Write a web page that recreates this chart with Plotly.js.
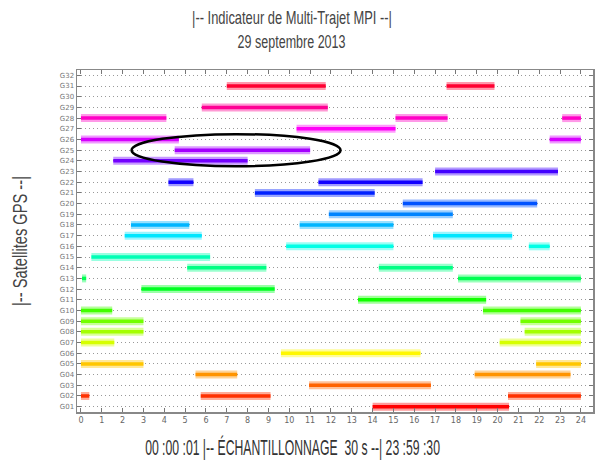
<!DOCTYPE html>
<html>
<head>
<meta charset="utf-8">
<script src="https://cdn.plot.ly/plotly-3.0.1.min.js"></script>
<style>html,body{margin:0;padding:0;background:#fff;}#chart{width:597px;height:464px;}</style>
</head>
<body>
<div id="chart"></div>
<script>
// ---- Data ----
const satTickVals = [1,2,3,4,5,6,7,8,9,10,11,12,13,14,15,16,17,18,19,20,21,22,23,24,25,26,27,28,29,30,31,32];
const satTickText = ['G01','G02','G03','G04','G05','G06','G07','G08','G09','G10','G11','G12','G13','G14','G15','G16',
                     'G17','G18','G19','G20','G21','G22','G23','G24','G25','G26','G27','G28','G29','G30','G31','G32'];
const hourTicks = [0,1,2,3,4,5,6,7,8,9,10,11,12,13,14,15,16,17,18,19,20,21,22,23,24];

// visibility segments (hours) for each satellite
const segSat   = [1, 2,2,2, 3, 4,4, 5,5, 6, 7,7, 8,8, 9,9, 10,10, 11, 12, 13,13, 14,14, 15, 16,16, 17,17, 18,18, 19, 20, 21, 22,22, 23, 24, 25, 26,26, 27, 28,28,28, 29, 31,31];
const segStart = [14.0, 0.0,5.75,20.5, 10.95, 5.5,18.9, 0.0,21.85, 9.6, 0.0,20.1, 0.0,21.3, 0.0,21.1, 0.0,19.3, 13.3, 2.9, 0.05,18.1, 5.1,14.3, 0.5, 9.85,21.5, 2.1,16.9, 2.4,10.5, 11.9, 15.45, 8.35, 4.2,11.4, 17.0, 1.55, 4.5, 0.0,22.5, 10.35, 0.0,15.1,23.1, 5.8, 7.0,17.55];
const segEnd   = [20.55, 0.4,9.1,24.0, 16.8, 7.5,23.5, 3.0,24.0, 16.3, 1.6,24.0, 3.0,24.0, 3.0,24.0, 1.5,24.0, 19.45, 9.3, 0.25,24.0, 8.9,17.85, 6.2, 15.0,22.5, 5.8,20.7, 5.2,15.0, 17.85, 21.9, 14.1, 5.4,16.4, 22.9, 8.0, 11.0, 4.7,24.0, 15.1, 4.1,17.6,24.0, 11.85, 11.75,19.85];

// highlighted region (ellipse)
const ellipseHours = [2.43, 12.46];
const ellipseSats  = [23.5, 26.5];

// ---- Build traces ----
function satColor(k){ const h = (k-1)*360/31; return 'hsl(' + h.toFixed(1) + ',100%,50%)'; }

const traces = [];
for (let k = 1; k <= 32; k++) {
  const xs = [], ys = [];
  for (let i = 0; i < segSat.length; i++) {
    if (segSat[i] === k) {
      xs.push(segStart[i], segEnd[i], null);
      ys.push(k, k, null);
    }
  }
  if (!xs.length) continue;
  traces.push({x: xs, y: ys, type: 'scatter', mode: 'lines', hoverinfo: 'skip', showlegend: false,
               opacity: 0.4, line: {color: satColor(k), width: 8}});
  traces.push({x: xs, y: ys, type: 'scatter', mode: 'lines', showlegend: false,
               name: satTickText[k-1], line: {color: satColor(k), width: 3.5}});
}

const titleFont = "'Liberation Sans', Arial, sans-serif";

const layout = {
  width: 597, height: 464,
  margin: {l: 77, r: 4, t: 70, b: 52},
  paper_bgcolor: '#fff', plot_bgcolor: '#fff',
  showlegend: false,
  title: {text: '|-- Indicateur de Multi-Trajet MPI --|', xref: 'container', x: 292/597, xanchor: 'center',
          yref: 'container', y: 1 - 18/464, yanchor: 'middle',
          font: {family: titleFont, size: 18, color: '#444'}},
  xaxis: {
    range: [-0.19, 24.58], tickvals: hourTicks, ticktext: hourTicks.map(String),
    ticks: 'inside', ticklen: 4, tickcolor: '#777', tickwidth: 1,
    showline: true, linecolor: '#888', linewidth: 1.5, mirror: 'ticks',
    showgrid: false, zeroline: false,
    tickfont: {family: 'DejaVu Sans, sans-serif', size: 8, color: '#666'}
  },
  yaxis: {
    range: [0.5, 32.5], tickvals: satTickVals, ticktext: satTickText,
    ticks: 'inside', ticklen: 4, tickcolor: '#777', tickwidth: 1,
    showline: true, linecolor: '#888', linewidth: 1.5, mirror: 'ticks',
    showgrid: true, gridcolor: '#999', griddash: '1px,3px', gridwidth: 1, zeroline: false,
    tickfont: {family: 'DejaVu Sans, sans-serif', size: 7, color: '#777'},
    title: {text: '|-- Satellites GPS --|', standoff: 26,
            font: {family: titleFont, size: 20, color: '#444'}}
  },
  shapes: [{type: 'circle', xref: 'x', yref: 'y', x0: ellipseHours[0], x1: ellipseHours[1],
            y0: ellipseSats[0], y1: ellipseSats[1], line: {color: '#000', width: 2.5}}],
  annotations: [
    {text: '29 septembre 2013', xref: 'paper', yref: 'paper', x: (291 - 77)/516, y: 1 + 28/342,
     xanchor: 'center', yanchor: 'middle', showarrow: false, borderpad: 0,
     font: {family: titleFont, size: 18, color: '#444'}},
    {text: '00 :00 :01 |-- ÉCHANTILLONNAGE  30 s --| 23 :59 :30', xref: 'paper', yref: 'paper',
     x: (292.5 - 77)/516, y: -36/342, xanchor: 'center', yanchor: 'middle', showarrow: false, borderpad: 0,
     font: {family: titleFont, size: 22, color: '#333'}}
  ]
};

// narrow a text horizontally (condensed look) around its own centre
function condense(el, targetWidth) {
  if (!el) return;
  const b = el.getBBox();
  if (!b.width) return;
  const sx = targetWidth / b.width;
  const cx = b.x + b.width / 2, cy = b.y + b.height / 2;
  const prev = el.getAttribute('transform') || '';
  el.setAttribute('transform', (prev + ' translate(' + cx + ',' + cy + ') scale(' + sx + ',1) translate(' + (-cx) + ',' + (-cy) + ')').trim());
}

Plotly.newPlot('chart', traces, layout, {staticPlot: true, displayModeBar: false}).then(function(gd){
  condense(gd.querySelector('.gtitle'), 200);
  condense(gd.querySelector('.ytitle'), 130);
  const ann = gd.querySelectorAll('.annotation-text');
  if (ann[0]) condense(ann[0], 108);
  if (ann[1]) condense(ann[1], 295);
});
</script>
</body>
</html>
